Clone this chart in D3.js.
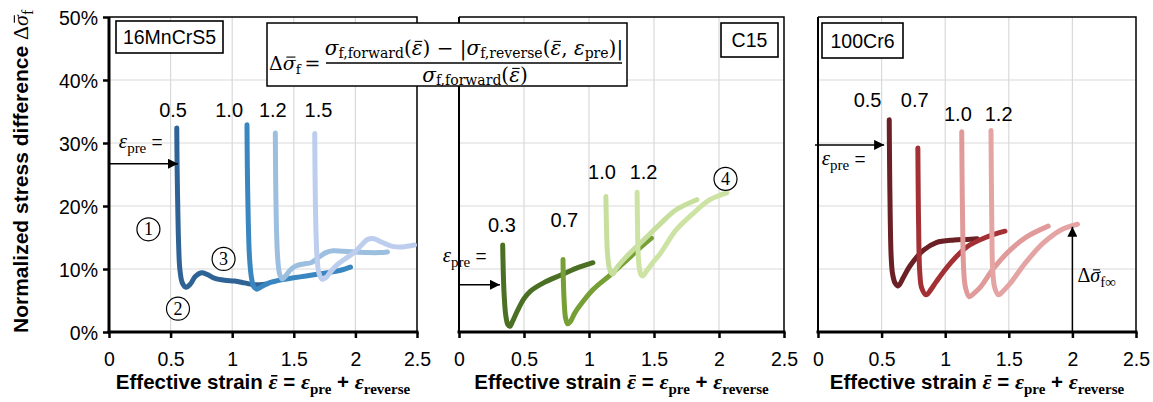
<!DOCTYPE html>
<html><head><meta charset="utf-8">
<script src="https://cdn.jsdelivr.net/npm/d3@7"></script>
<style>
html,body{margin:0;padding:0;background:#fff;}
svg{display:block;}
</style></head><body>
<svg id="chart" width="1153" height="402"></svg>
<script>
// ---- axis ticks ----
const xTicks = [0, 0.5, 1, 1.5, 2, 2.5];
const xTickLabels = ["0", "0.5", "1", "1.5", "2", "2.5"];
const yTicks = [0, 10, 20, 30, 40, 50];
const yTickLabels = ["0%", "10%", "20%", "30%", "40%", "50%"];

// ---- 16MnCrS5: [effective strain, stress difference %] ----
const mn_pre050 = [[0.55,32.4],[0.553,26],[0.558,20],[0.565,14],[0.575,10],[0.595,7.8],[0.625,7.1],[0.66,7.6],[0.7,8.8],[0.75,9.4],[0.8,9.1],[0.86,8.5],[0.94,8.2],[1.02,8.1],[1.1,7.8],[1.18,7.5],[1.27,7.6]];
const mn_pre100 = [[1.12,32.9],[1.123,26],[1.13,18],[1.14,12],[1.155,8.8],[1.175,7.2],[1.2,6.8],[1.24,7.2],[1.3,7.8],[1.4,8.3],[1.5,8.6],[1.6,8.9],[1.7,9.2],[1.8,9.5],[1.88,9.8],[1.96,10.3]];
const mn_pre120 = [[1.35,31.6],[1.353,24],[1.36,16],[1.37,11.5],[1.385,9.2],[1.405,8.4],[1.43,8.8],[1.47,9.8],[1.52,10.5],[1.58,10.8],[1.64,11.0],[1.7,11.8],[1.76,12.6],[1.82,12.9],[1.9,12.8],[2.0,12.7],[2.1,12.6],[2.2,12.6],[2.26,12.7]];
const mn_pre150 = [[1.67,31.5],[1.673,24],[1.68,16],[1.69,11.5],[1.705,9.3],[1.73,8.4],[1.76,8.6],[1.8,9.6],[1.86,10.8],[1.93,11.8],[2.0,12.8],[2.05,13.8],[2.1,14.7],[2.15,14.8],[2.22,14.2],[2.3,13.6],[2.38,13.5],[2.48,13.8]];
const mn_preLabels = ["0.5", "1.0", "1.2", "1.5"];
const mn_colors = ["#2f6396", "#3a86c0", "#9dbfdf", "#bccdee"];

// ---- C15 ----
const c15_pre030 = [[0.336,13.8],[0.34,10],[0.347,6],[0.36,2.6],[0.375,1.2],[0.392,0.9],[0.41,1.6],[0.45,3.4],[0.5,5.3],[0.55,6.5],[0.65,7.8],[0.78,9.0],[0.9,10.1],[1.03,11.0]];
const c15_pre070 = [[0.8,11.5],[0.803,8],[0.81,4.5],[0.82,2.2],[0.835,1.3],[0.855,1.6],[0.89,3.0],[0.93,4.2],[1.03,6.7],[1.16,9.0],[1.29,11.4],[1.4,13.5],[1.48,14.9]];
const c15_pre100 = [[1.13,21.5],[1.134,17],[1.142,12.5],[1.155,10.3],[1.17,9.4],[1.185,9.2],[1.21,10.1],[1.29,12.0],[1.42,14.6],[1.55,17.2],[1.67,19.4],[1.83,21.0]];
const c15_pre120 = [[1.37,22.2],[1.373,17],[1.378,12.5],[1.388,10.0],[1.4,9.1],[1.415,8.9],[1.44,9.6],[1.49,11.0],[1.55,12.5],[1.67,16.2],[1.8,18.8],[1.93,21.0],[2.06,22.1]];
const c15_preLabels = ["0.3", "0.7", "1.0", "1.2"];
const c15_colors = ["#4b7024", "#76a035", "#c7df9c", "#cde3a3"];

// ---- 100Cr6 ----
const cr_pre050 = [[0.56,33.7],[0.563,26],[0.568,18],[0.575,12],[0.585,9.4],[0.605,7.8],[0.63,7.3],[0.67,8.6],[0.72,10.4],[0.83,13.0],[0.93,14.2],[1.07,14.6],[1.17,14.7],[1.25,14.8]];
const cr_pre070 = [[0.785,29.2],[0.788,22],[0.793,14],[0.8,9.5],[0.815,7.0],[0.85,5.9],[0.89,6.8],[0.93,8.0],[1.04,10.9],[1.17,13.5],[1.33,15.1],[1.47,16.0]];
const cr_pre100 = [[1.13,31.8],[1.133,24],[1.138,16],[1.145,10],[1.16,7.0],[1.19,5.6],[1.23,6.2],[1.28,7.2],[1.38,10.1],[1.51,13.0],[1.64,15.1],[1.81,16.8]];
const cr_pre120 = [[1.36,32.0],[1.363,24],[1.367,16],[1.373,10],[1.39,7.0],[1.42,5.9],[1.46,6.6],[1.51,7.7],[1.64,11.2],[1.77,14.1],[1.91,16.2],[2.04,17.1]];
const cr_preLabels = ["0.5", "0.7", "1.0", "1.2"];
const cr_colors = ["#6a2024", "#a33035", "#e09a9a", "#e4a4a4"];

const SANS = "'Liberation Sans', Arial, sans-serif";
const SERIF = "'Liberation Serif', 'Times New Roman', serif";
const MATH = "'DejaVu Serif', 'Liberation Serif', serif";

const svg = d3.select("#chart");
svg.append("rect").attr("width", 1153).attr("height", 402).attr("fill", "#fff");

const defs = svg.append("defs");
defs.append("marker").attr("id", "arrow").attr("viewBox", "0 0 10 10")
  .attr("refX", 10).attr("refY", 5).attr("markerWidth", 10).attr("markerHeight", 10)
  .attr("markerUnits", "userSpaceOnUse").attr("orient", "auto")
  .append("path").attr("d", "M0,0L10,5L0,10Z").attr("fill", "#000");

// Mixed-font text with subscripts built from tspans; parts flagged "bar"
// get a short overline drawn above the glyph (mean-value notation).
function rich(parent, x, y, parts, anchor) {
  const t = parent.append("text").attr("x", x).attr("y", y)
    .attr("text-anchor", anchor || "start").attr("fill", "#000");
  let shift = 0;
  const bars = [];
  parts.forEach(p => {
    const s = p.sub || 0;
    const ts = t.append("tspan").text(p.t)
      .attr("dy", s - shift)
      .style("font-family", p.font || (p.serif ? SERIF : SANS))
      .style("font-size", p.size + "px")
      .style("font-style", p.italic ? "italic" : "normal")
      .style("font-weight", p.bold ? "bold" : "normal")
      .style("white-space", "pre");
    if (p.bar) bars.push({ node: ts.node(), p, base: y + s });
    shift = s;
  });
  bars.forEach(b => {
    const e = b.node.getExtentOfChar(0);
    const yb = b.base - b.p.size * (b.p.barH || 0.62);
    parent.append("line")
      .attr("x1", e.x + e.width * 0.28).attr("x2", e.x + e.width * 0.98)
      .attr("y1", yb).attr("y2", yb)
      .attr("stroke", "#000").attr("stroke-width", b.p.bold ? 1.6 : 1.1);
  });
  return t;
}

const y = d3.scaleLinear().domain([0, 50]).range([332, 17]);

const panels = [
  { name: "16MnCrS5", range: [109, 417], box: [116, 21, 107, 32], first: true,
    series: [mn_pre050, mn_pre100, mn_pre120, mn_pre150], colors: mn_colors, labels: mn_preLabels,
    labelPos: [[0.52,34.1],[0.975,34.1],[1.33,34.1],[1.70,34.1]],
    epre: { text: [0.08, 29.2], arrowY: 26.7, arrowX: 0.56 },
    circles: [["1", 0.32, 16.3], ["2", 0.56, 3.7], ["3", 0.93, 11.6]] },
  { name: "C15", range: [459, 784], box: [721, 23, 57, 34], first: false,
    series: [c15_pre030, c15_pre070, c15_pre100, c15_pre120], colors: c15_colors, labels: c15_preLabels,
    labelPos: [[0.33,15.9],[0.81,16.7],[1.10,24.3],[1.42,24.3]],
    epre: { text: [-0.125, 11.1], arrowY: 7.5, arrowX: 0.315 },
    circles: [["4", 2.05, 24.3]] },
  { name: "100Cr6", range: [818, 1136], box: [822, 23, 81, 35], first: false,
    series: [cr_pre050, cr_pre070, cr_pre100, cr_pre120], colors: cr_colors, labels: cr_preLabels,
    labelPos: [[0.39,35.7],[0.76,35.7],[1.10,33.5],[1.42,33.5]],
    epre: { text: [0.03, 26.5], arrowY: 29.7, arrowX: 0.52 },
    circles: [], infinity: { x: 2.0, y: 16.7 } }
];

panels.forEach(p => {
  const x = d3.scaleLinear().domain([0, 2.5]).range(p.range);
  const g = svg.append("g");

  // grid
  g.selectAll(".gx").data(xTicks.slice(1, -1)).join("line")
    .attr("x1", d => x(d)).attr("x2", d => x(d)).attr("y1", y(0)).attr("y2", y(50))
    .attr("stroke", "#d9d9d9").attr("stroke-width", 1.2);
  g.selectAll(".gy").data(yTicks.slice(1, -1)).join("line")
    .attr("x1", x(0)).attr("x2", x(2.5)).attr("y1", d => y(d)).attr("y2", d => y(d))
    .attr("stroke", "#d9d9d9").attr("stroke-width", 1.2);

  // frame: top and right
  g.append("path").attr("d", `M${x(0)},${y(50)}H${x(2.5)}V${y(0)}`)
    .attr("fill", "none").attr("stroke", "#000").attr("stroke-width", 1.5);

  // curves
  const line = d3.line().x(d => x(d[0])).y(d => y(d[1])).curve(d3.curveCatmullRom.alpha(0.5));
  p.series.forEach((s, i) => {
    g.append("path").attr("d", line(s)).attr("fill", "none")
      .attr("stroke", p.colors[i]).attr("stroke-width", 5)
      .attr("stroke-linecap", "round").attr("stroke-linejoin", "round");
  });

  // pre-strain labels
  p.labels.forEach((t, i) => {
    g.append("text").attr("x", x(p.labelPos[i][0])).attr("y", y(p.labelPos[i][1]))
      .attr("text-anchor", "middle").style("font-family", SANS).style("font-size", "20px").text(t);
  });

  // left axis
  g.append("line").attr("x1", x(0)).attr("x2", x(0)).attr("y1", y(0)).attr("y2", y(50))
    .attr("stroke", "#000").attr("stroke-width", p.first ? 3 : 2);
  if (p.first) {
    const ya = d3.axisLeft(y).tickValues(yTicks).tickFormat((d, i) => yTickLabels[i]).tickSize(6).tickPadding(5);
    const ag = g.append("g").attr("transform", `translate(${x(0)},0)`).call(ya);
    ag.select(".domain").remove();
    ag.selectAll(".tick line").attr("stroke-width", 2.5);
    ag.selectAll(".tick text").style("font-family", SANS).style("font-size", "19.5px").attr("dy", "0.36em");
  }

  // bottom axis
  const xa = d3.axisBottom(x).tickValues(xTicks).tickFormat((d, i) => xTickLabels[i]).tickSize(6).tickPadding(6);
  const bg = g.append("g").attr("transform", `translate(0,${y(0)})`).call(xa);
  bg.select(".domain").attr("stroke-width", 3.2).attr("d", `M${x(0) - 1.5},0H${x(2.5) + 1.5}`);
  bg.selectAll(".tick line").attr("stroke-width", 2.5);
  bg.selectAll(".tick text").style("font-family", SANS).style("font-size", "19.5px").attr("y", 20);

  // x title
  rich(g, (p.range[0] + p.range[1]) / 2, 389, [
    { t: "Effective strain ", size: 20.5, bold: true },
    { t: "\u03B5", serif: true, italic: true, bold: true, size: 22, bar: true, barH: 0.6 },
    { t: " = ", size: 20.5, bold: true },
    { t: "\u03B5", serif: true, italic: true, bold: true, size: 22 },
    { t: "pre", serif: true, bold: true, size: 15, sub: 5 },
    { t: " + ", size: 20.5, bold: true },
    { t: "\u03B5", serif: true, italic: true, bold: true, size: 22 },
    { t: "reverse", serif: true, bold: true, size: 15, sub: 5 }
  ], "middle");

  // material box
  const [bx, by, bw, bh] = p.box;
  g.append("rect").attr("x", bx).attr("y", by).attr("width", bw).attr("height", bh)
    .attr("fill", "#fff").attr("stroke", "#000").attr("stroke-width", 1.6);
  g.append("text").attr("x", bx + bw / 2).attr("y", by + bh / 2 + 7).attr("text-anchor", "middle")
    .style("font-family", SANS).style("font-size", "19.5px").text(p.name);

  // epsilon_pre label with arrow
  rich(g, x(p.epre.text[0]), y(p.epre.text[1]), [
    { t: "\u03B5", serif: true, italic: true, size: 21 },
    { t: "pre", serif: true, size: 15, sub: 5 },
    { t: " =", size: 19, sub: 0 }
  ]);
  g.append("line").attr("x1", x(0) - (p.name === "100Cr6" ? 3 : 0)).attr("x2", x(p.epre.arrowX))
    .attr("y1", y(p.epre.arrowY)).attr("y2", y(p.epre.arrowY))
    .attr("stroke", "#000").attr("stroke-width", 1.5).attr("marker-end", "url(#arrow)");

  // circled stage numbers
  p.circles.forEach(([t, cx, cy]) => {
    g.append("circle").attr("cx", x(cx)).attr("cy", y(cy)).attr("r", 11.5)
      .attr("fill", "#fff").attr("stroke", "#000").attr("stroke-width", 1.2);
    g.append("text").attr("x", x(cx)).attr("y", y(cy) + 6).attr("text-anchor", "middle")
      .style("font-family", SERIF).style("font-size", "18px").text(t);
  });

  // saturation arrow
  if (p.infinity) {
    g.append("line").attr("x1", x(p.infinity.x)).attr("x2", x(p.infinity.x))
      .attr("y1", y(0)).attr("y2", y(p.infinity.y))
      .attr("stroke", "#000").attr("stroke-width", 1.5).attr("marker-end", "url(#arrow)");
    rich(g, x(p.infinity.x) + 5, y(7.9), [
      { t: "\u0394", serif: true, size: 20 },
      { t: "\u03C3", serif: true, italic: true, size: 20, bar: true },
      { t: "f\u221E", serif: true, size: 15, sub: 5 }
    ]);
  }
});

// y axis title
const yt = svg.append("g").attr("transform", "translate(28,333) rotate(-90)");
rich(yt, 0, 0, [
  { t: "Normalized stress difference ", size: 21, bold: true },
  { t: "\u0394", serif: true, size: 22 },
  { t: "\u03C3", serif: true, italic: true, size: 22, bar: true },
  { t: "f", serif: true, size: 16, sub: 5 }
]);

// definition formula
const fg = svg.append("g");
fg.append("rect").attr("x", 267).attr("y", 23).attr("width", 360).attr("height", 63)
  .attr("fill", "#fff").attr("stroke", "#000").attr("stroke-width", 1.5);
rich(fg, 269, 70, [
  { t: "\u0394", font: MATH, size: 19 },
  { t: "\u03C3", font: MATH, italic: true, size: 19, bar: true, barH: 0.68 },
  { t: "f", font: MATH, size: 13.5, sub: 4 },
  { t: "\u2009=", font: MATH, size: 19, sub: 0 }
]);
fg.append("line").attr("x1", 326).attr("x2", 622).attr("y1", 63).attr("y2", 63)
  .attr("stroke", "#000").attr("stroke-width", 1.3);
rich(fg, 474, 55, [
  { t: "\u03C3", font: MATH, italic: true, size: 20 },
  { t: "f,forward", font: MATH, size: 14, sub: 3 },
  { t: "(", font: MATH, size: 20, sub: 0 },
  { t: "\u03B5", font: MATH, italic: true, size: 20, bar: true, barH: 0.68 },
  { t: ") \u2212 |", font: MATH, size: 20 },
  { t: "\u03C3", font: MATH, italic: true, size: 20 },
  { t: "f,reverse", font: MATH, size: 14, sub: 3 },
  { t: "(", font: MATH, size: 20, sub: 0 },
  { t: "\u03B5", font: MATH, italic: true, size: 20, bar: true, barH: 0.68 },
  { t: ", ", font: MATH, size: 20 },
  { t: "\u03B5", font: MATH, italic: true, size: 20 },
  { t: "pre", font: MATH, size: 14, sub: 3 },
  { t: ")|", font: MATH, size: 20, sub: 0 }
], "middle");
rich(fg, 475, 82, [
  { t: "\u03C3", font: MATH, italic: true, size: 20 },
  { t: "f,forward", font: MATH, size: 14, sub: 3 },
  { t: "(", font: MATH, size: 20, sub: 0 },
  { t: "\u03B5", font: MATH, italic: true, size: 20, bar: true, barH: 0.68 },
  { t: ")", font: MATH, size: 20 }
], "middle");
</script></body></html>
